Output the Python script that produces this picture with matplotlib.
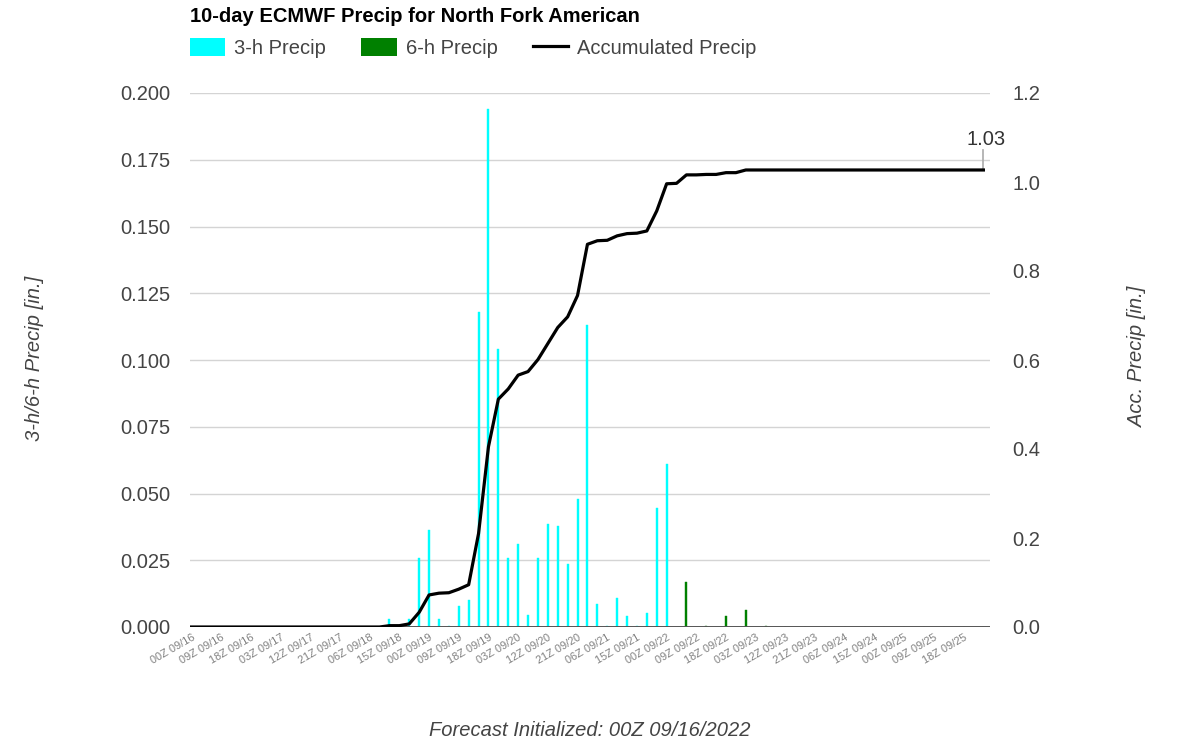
import matplotlib
matplotlib.use('Agg')
import matplotlib.pyplot as plt
import numpy as np
from matplotlib.patches import Patch
from matplotlib.lines import Line2D

plt.rcParams['font.family'] = ['Liberation Sans', 'DejaVu Sans']

# ---------------- data ----------------
title = "10-day ECMWF Precip for North Fork American"

# forecast hours of the 3-hourly steps (0..144 h) and values [in.]
hours_3h = list(range(0, 145, 3))
precip_3h = [0, 0, 0, 0, 0, 0, 0, 0, 0, 0,
             0, 0, 0, 0, 0, 0, 0, 0, 0, 0,
             0.003, 0, 0.003, 0.026, 0.0365, 0.003, 0.0004, 0.008, 0.010, 0.118,
             0.194, 0.104, 0.026, 0.031, 0.0046, 0.026, 0.0386, 0.0377, 0.0237, 0.048,
             0.113, 0.0085, 0.0003, 0.011, 0.0041, 0.0003, 0.0051, 0.0447, 0.061]

# 6-hourly steps (150..240 h)
hours_6h = list(range(150, 241, 6))
precip_6h = [0.017, 0.0002, 0.0041, 0.0064, 0.0002, 0, 0, 0,
             0, 0, 0, 0, 0, 0, 0, 0]

# accumulated precip on every 3-h step (0..240 h)
hours_acc = list(range(0, 241, 3))
acc_precip = [0, 0, 0, 0, 0, 0, 0, 0, 0, 0,
              0, 0, 0, 0, 0, 0, 0, 0, 0, 0,
              0.003, 0.003, 0.007, 0.033, 0.072, 0.076, 0.077, 0.085, 0.095, 0.210,
              0.405, 0.512, 0.535, 0.566, 0.574, 0.601, 0.637, 0.673, 0.697, 0.745,
              0.860, 0.868, 0.869, 0.879, 0.884, 0.885, 0.890, 0.935, 0.996, 0.997,
              1.016, 1.016, 1.017, 1.017, 1.021, 1.021, 1.027, 1.027, 1.027, 1.027,
              1.027, 1.027, 1.027, 1.027, 1.027, 1.027, 1.027, 1.027, 1.027, 1.027,
              1.027, 1.027, 1.027, 1.027, 1.027, 1.027, 1.027, 1.027, 1.027, 1.027,
              1.027]
final_label = "1.03"

tick_hours = list(range(0, 235, 9))
tick_labels = ["00Z 09/16", "09Z 09/16", "18Z 09/16", "03Z 09/17", "12Z 09/17",
               "21Z 09/17", "06Z 09/18", "15Z 09/18", "00Z 09/19", "09Z 09/19",
               "18Z 09/19", "03Z 09/20", "12Z 09/20", "21Z 09/20", "06Z 09/21",
               "15Z 09/21", "00Z 09/22", "09Z 09/22", "18Z 09/22", "03Z 09/23",
               "12Z 09/23", "21Z 09/23", "06Z 09/24", "15Z 09/24", "00Z 09/25",
               "09Z 09/25", "18Z 09/25"]

left_ticks = [0, 0.025, 0.05, 0.075, 0.1, 0.125, 0.15, 0.175, 0.2]
right_ticks = [0, 0.2, 0.4, 0.6, 0.8, 1.0, 1.2]

# ---------------- figure ----------------
W, H = 1178, 745
fig = plt.figure(figsize=(W / 100, H / 100), dpi=100)
ax = fig.add_axes([190 / W, 1 - 627 / H, 800 / W, 534 / H])
ax2 = ax.twinx()

FS = 14.5
TXT = '#444444'
CYAN = '#00FFFF'
GREEN = '#008000'

ax.bar(hours_3h, precip_3h, width=0.6, color=CYAN, edgecolor=CYAN,
       linewidth=0.3, zorder=3)
ax.bar(hours_6h, precip_6h, width=0.6, color=GREEN, edgecolor=GREEN,
       linewidth=0.3, zorder=3)
ax2.plot(hours_acc, acc_precip, color='black', lw=2.3, zorder=4,
         solid_joinstyle='round')

ax.set_xlim(-0.45, 242)
ax.set_ylim(0, 0.2)
ax2.set_ylim(0, 1.2)

ax.set_yticks(left_ticks)
ax.set_yticklabels([f"{v:.3f}" for v in left_ticks])
ax2.set_yticks(right_ticks)
ax2.set_yticklabels([f"{v:.1f}" for v in right_ticks])
ax.tick_params(axis='y', length=0, pad=14.4, labelsize=FS, labelcolor=TXT)
ax2.tick_params(axis='y', length=0, pad=16, labelsize=FS, labelcolor=TXT)

ax.set_xticks(tick_hours)
ax.set_xticklabels(tick_labels, rotation=30, ha='right', va='top',
                   rotation_mode='anchor', fontsize=7.9, color='#808080')
ax.tick_params(axis='x', length=0, pad=4)

ax.grid(axis='y', color='#d4d4d4', lw=1.0, zorder=0)
ax.set_axisbelow(True)
for a in (ax, ax2):
    for s in ('top', 'left', 'right', 'bottom'):
        a.spines[s].set_visible(False)
ax.axhline(0, color='#555555', lw=1.4, zorder=5)

# final value annotation
x_last, y_last = hours_acc[-1], acc_precip[-1]
ax2.plot([x_last, x_last], [y_last, y_last + 20 / 445], color='#aaaaaa', lw=1.2,
         zorder=3, clip_on=False)
ax2.annotate(final_label, xy=(x_last, y_last), xytext=(3, 21),
             textcoords='offset pixels', ha='center', va='bottom',
             fontsize=FS, color='#333333', annotation_clip=False)

# titles / labels
fig.text(190 / W, 1 - 16 / H, title, fontsize=FS, fontweight='bold',
         ha='left', va='center', color='black')
fig.text(35 / W, 1 - 358 / H, "3-h/6-h Precip [in.]", rotation=90,
         style='italic', fontsize=FS, color=TXT, ha='center', va='center')
fig.text(1138 / W, 1 - 357 / H, "Acc. Precip [in.]", rotation=90,
         style='italic', fontsize=FS, color=TXT, ha='center', va='center')
fig.text(590 / W, 1 - 730 / H, "Forecast Initialized: 00Z 09/16/2022",
         style='italic', fontsize=FS, color=TXT, ha='center', va='center')

handles = [Patch(facecolor=CYAN, edgecolor='none'),
           Patch(facecolor=GREEN, edgecolor='none'),
           Line2D([], [], color='black', lw=2.3)]
fig.legend(handles, ["3-h Precip", "6-h Precip", "Accumulated Precip"],
           loc='center left', bbox_to_anchor=(190 / W, 1 - 48 / H), ncol=3,
           frameon=False, fontsize=FS, labelcolor=TXT, borderpad=0,
           borderaxespad=0, handlelength=1.75, handleheight=1.0,
           handletextpad=0.45, columnspacing=1.75)

fig.savefig('out.png', dpi=100)
